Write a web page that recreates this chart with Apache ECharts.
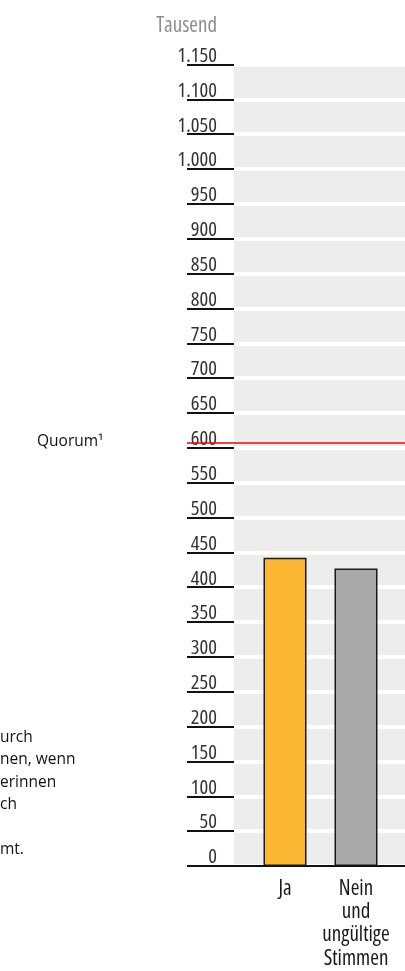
<!DOCTYPE html>
<html>
<head>
<meta charset="utf-8">
<script src="https://cdn.jsdelivr.net/npm/echarts@6/dist/echarts.min.js"></script>
<style>
  html, body { margin: 0; padding: 0; background: #fff; }
  #chart { width: 405px; height: 971px; }
</style>
</head>
<body>
<div id="chart"></div>
<script>
// values in thousand votes
const categories = ['Ja', 'Nein\nund\nungültige\nStimmen']
const votes = [442.2, 427.0]
const barColors = ['#fbb731', '#a9a9a9']
const quorum = 607.5
const axisMin = 0
const axisMax = 1150
const axisStep = 50
const unitLabel = 'Tausend'
const quorumLabel = 'Quorum¹'
const noteLines = ['urch', 'nen, wenn', 'erinnen', 'ch', '', 'mt.']

// Open Sans has a width axis, "condensed" goes into the font shorthand
const condFamily = "'Open Sans'"
const condWeight = 'condensed'

// 1150 -> "1.150"
const fmtDe = v => {
  if (v < 1000) return String(v)
  return Math.floor(v / 1000) + '.' + String(v % 1000).padStart(3, '0')
}

const chart = echarts.init(document.getElementById('chart'))

chart.setOption({
  animation: false,
  grid: [
    // background grid with the y scale
    {
      left: 234, right: 0, top: 64.5, bottom: 105,
      show: true, backgroundColor: '#ededed', borderWidth: 0,
      outerBoundsMode: 'none'
    },
    // bars
    {
      left: 249.5, right: 13.5, top: 64.5, bottom: 105,
      outerBoundsMode: 'none'
    }
  ],
  xAxis: [
    {
      gridIndex: 0,
      type: 'value',
      min: 0,
      max: 1,
      z: 5,
      axisLine: { show: true, lineStyle: { color: '#111', width: 2 } },
      axisTick: { show: false },
      axisLabel: { show: false },
      splitLine: { show: false }
    },
    {
      gridIndex: 1,
      type: 'category',
      data: categories,
      axisLine: { show: false },
      axisTick: { show: false },
      axisLabel: {
        interval: 0,
        margin: 11,
        fontFamily: condFamily,
        fontWeight: condWeight,
        fontSize: 21,
        lineHeight: 23.3,
        color: '#1a1a1a',
        align: 'center'
      }
    }
  ],
  yAxis: [
    {
      gridIndex: 0,
      type: 'value',
      min: axisMin,
      max: axisMax,
      interval: axisStep,
      name: unitLabel,
      nameLocation: 'end',
      nameGap: 38,
      nameTextStyle: {
        fontFamily: condFamily,
        fontWeight: condWeight,
        fontSize: 21,
        color: '#8c8c8c',
        align: 'right',
        verticalAlign: 'middle',
        padding: [0, 17, 0, 0]
      },
      axisLine: { show: false },
      axisTick: { show: true, length: 47, lineStyle: { color: '#111', width: 2 } },
      axisLabel: {
        margin: 17,
        fontFamily: condFamily,
        fontWeight: condWeight,
        fontSize: 20.5,
        lineHeight: 17,
        color: '#333',
        verticalAlign: 'bottom',
        formatter: fmtDe
      },
      splitLine: { show: true, lineStyle: { color: '#fff', width: 4 } }
    },
    {
      gridIndex: 1,
      type: 'value',
      min: axisMin,
      max: axisMax,
      interval: axisStep,
      show: false
    }
  ],
  graphic: [
    {
      type: 'text',
      left: 37,
      top: 434,
      style: {
        text: quorumLabel,
        font: "15.5px 'Open Sans', 'Noto Sans', sans-serif",
        fill: '#111'
      }
    },
    {
      type: 'text',
      left: 0,
      top: 726,
      style: {
        text: noteLines.join('\n'),
        font: "15.5px 'Open Sans', 'Noto Sans', sans-serif",
        lineHeight: 22.5,
        fill: '#111'
      }
    }
  ],
  series: [
    {
      type: 'bar',
      xAxisIndex: 1,
      yAxisIndex: 1,
      barWidth: 43,
      data: votes.map((v, i) => ({
        value: v,
        itemStyle: { color: barColors[i] }
      })),
      itemStyle: { borderColor: '#1a1a1a', borderWidth: 1.5 },
      markLine: {
        silent: true,
        symbol: 'none',
        label: { show: false },
        lineStyle: { color: '#ff0000', width: 1.5, type: 'solid' },
        data: [[{ x: 187, yAxis: quorum }, { x: 405, yAxis: quorum }]]
      }
    }
  ]
})
</script>
</body>
</html>
